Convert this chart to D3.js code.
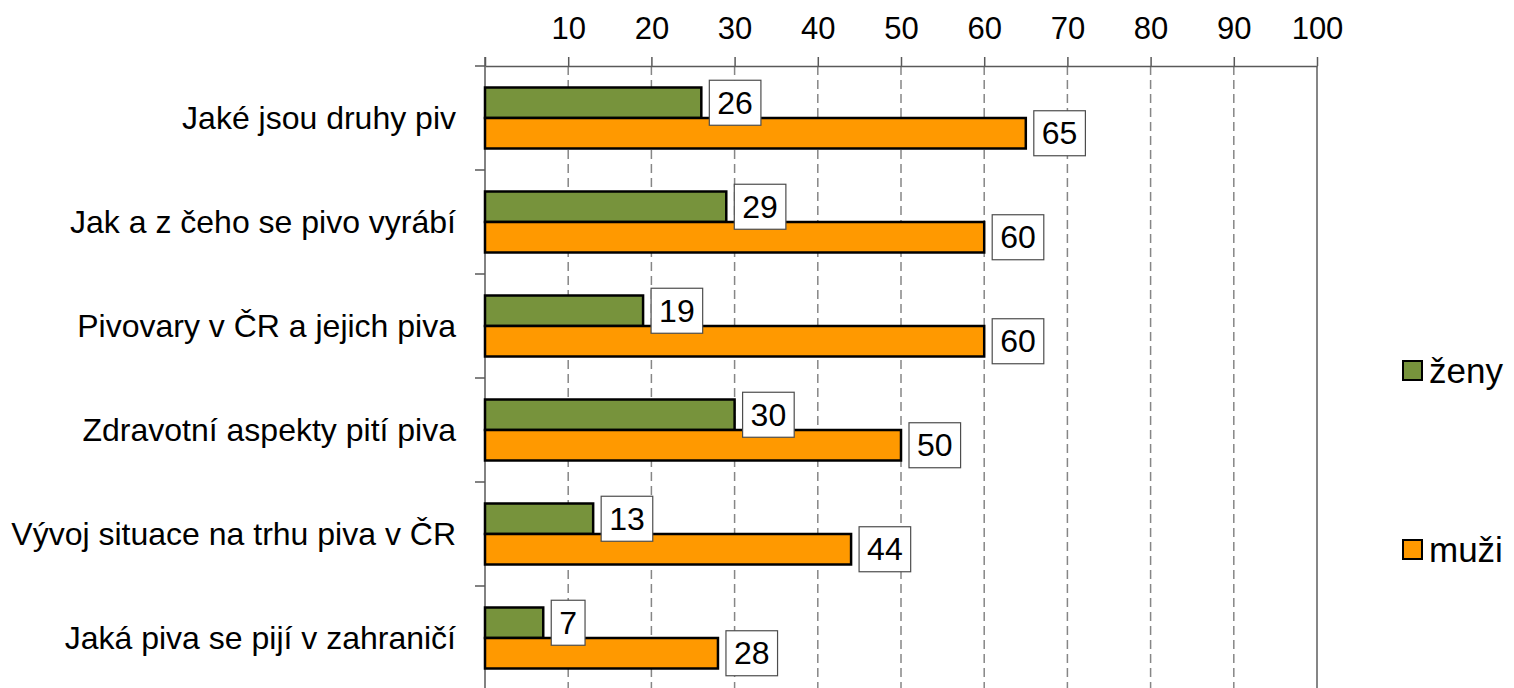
<!DOCTYPE html>
<html>
<head>
<meta charset="utf-8">
<script src="https://cdn.jsdelivr.net/npm/d3@7"></script>
<style>
  html, body { margin: 0; padding: 0; background: #fff; }
  svg { display: block; font-family: "Liberation Sans", Arial, sans-serif; }
</style>
</head>
<body>
<svg id="chart" width="1514" height="688"></svg>
<script>
// Survey topics (top to bottom)
const categories = [
  "Jaké jsou druhy piv",
  "Jak a z čeho se pivo vyrábí",
  "Pivovary v ČR a jejich piva",
  "Zdravotní aspekty pití piva",
  "Vývoj situace na trhu piva v ČR",
  "Jaká piva se pijí v zahraničí"
];
const seriesNames = ["ženy", "muži"];
const zenyValues = [26, 29, 19, 30, 13, 7];
const muziValues = [65, 60, 60, 50, 44, 28];
const tickValues = [0, 10, 20, 30, 40, 50, 60, 70, 80, 90, 100];
const colors = ["#77933C", "#FF9900"];

const svg = d3.select("#chart");
const plotLeft = 485, plotRight = 1317, plotTop = 66, plotBottom = 690;

const x = d3.scaleLinear().domain([0, 100]).range([plotLeft, plotRight]);
const y = d3.scaleBand().domain(categories).range([plotTop, plotBottom]).padding(0);
const inner = d3.scaleBand().domain(seriesNames).range([0, y.bandwidth()])
  .paddingInner(0).paddingOuter(0.705);
const color = d3.scaleOrdinal().domain(seriesNames).range(colors);

const rows = categories.map((c, i) => ({
  cat: c,
  values: [
    { series: seriesNames[0], value: zenyValues[i] },
    { series: seriesNames[1], value: muziValues[i] }
  ]
}));

// Dashed vertical gridlines
svg.append("g").selectAll("line")
  .data(tickValues.filter(v => v > 0 && v < 100))
  .join("line")
  .attr("x1", d => x(d)).attr("x2", d => x(d))
  .attr("y1", plotTop).attr("y2", 688)
  .attr("stroke", "#868686").attr("stroke-width", 1.5)
  .attr("stroke-dasharray", "9,5");

// Right edge of the plot area
svg.append("line")
  .attr("x1", x(100)).attr("x2", x(100))
  .attr("y1", plotTop).attr("y2", 688)
  .attr("stroke", "#868686").attr("stroke-width", 2);

// Top value axis
const xAxis = d3.axisTop(x)
  .tickValues(tickValues)
  .tickFormat(d => d === 0 ? "" : d)
  .tickSizeInner(9).tickSizeOuter(0).tickPadding(18);
const gx = svg.append("g").attr("transform", `translate(0,${plotTop})`).call(xAxis);
gx.select(".domain").attr("stroke", "#595959").attr("stroke-width", 1.5);
gx.selectAll(".tick line").attr("stroke", "#595959").attr("stroke-width", 1.5);
gx.selectAll(".tick text").attr("fill", "#000").attr("font-size", 31)
  .attr("font-family", "Liberation Sans, Arial, sans-serif");

// Category axis with ticks between the groups
const gy = svg.append("g");
gy.append("line")
  .attr("x1", plotLeft).attr("x2", plotLeft)
  .attr("y1", plotTop - 9).attr("y2", 688)
  .attr("stroke", "#595959").attr("stroke-width", 1.5);
gy.selectAll("line.sep")
  .data(categories)
  .join("line").attr("class", "sep")
  .attr("x1", plotLeft - 10).attr("x2", plotLeft)
  .attr("y1", d => y(d)).attr("y2", d => y(d))
  .attr("stroke", "#595959").attr("stroke-width", 1.5);
gy.selectAll("text")
  .data(categories)
  .join("text")
  .attr("x", 456)
  .attr("y", d => y(d) + y.bandwidth() / 2)
  .attr("dy", "0.35em")
  .attr("text-anchor", "end")
  .attr("font-size", 32)
  .attr("fill", "#000")
  .text(d => d);

// Bars
const groups = svg.append("g").selectAll("g")
  .data(rows).join("g")
  .attr("transform", d => `translate(0,${y(d.cat)})`);

groups.selectAll("rect")
  .data(d => d.values)
  .join("rect")
  .attr("x", x(0))
  .attr("y", d => inner(d.series))
  .attr("width", d => x(d.value) - x(0))
  .attr("height", inner.bandwidth())
  .attr("fill", d => color(d.series))
  .attr("stroke", "#000")
  .attr("stroke-width", 2.5);

// Value labels in white boxes
const labels = groups.selectAll("g.lbl")
  .data(d => d.values)
  .join("g").attr("class", "lbl");

labels.each(function(d) {
  const g = d3.select(this);
  const cy = inner(d.series) + inner.bandwidth() / 2;
  const bx = x(d.value) + 8;
  const rect = g.append("rect");
  const t = g.append("text")
    .attr("font-size", 32)
    .attr("fill", "#000")
    .attr("dy", "0.35em")
    .attr("y", cy)
    .text(d.value);
  const w = t.node().getComputedTextLength();
  const padX = 8;
  t.attr("x", bx + padX);
  rect.attr("x", bx).attr("y", cy - 22.5)
    .attr("width", w + padX * 2).attr("height", 45)
    .attr("fill", "#fff")
    .attr("stroke", "#4d4d4d").attr("stroke-width", 1.2);
});

// Legend
const legend = svg.append("g").selectAll("g")
  .data(seriesNames).join("g")
  .attr("transform", (d, i) => `translate(1403,${i === 0 ? 361 : 540})`);
legend.append("rect")
  .attr("width", 19).attr("height", 19)
  .attr("fill", d => color(d))
  .attr("stroke", "#000").attr("stroke-width", 2);
legend.append("text")
  .attr("x", 26).attr("y", 10)
  .attr("dy", "0.35em")
  .attr("font-size", 35).attr("fill", "#000")
  .text(d => d);
</script>
</body>
</html>
